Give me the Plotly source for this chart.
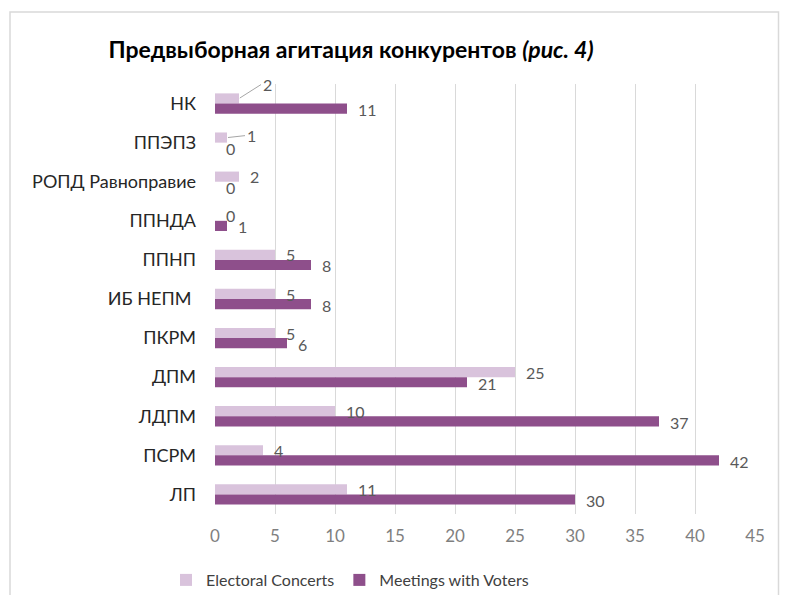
import plotly.graph_objects as go

categories = ["НК", "ППЭПЗ", "РОПД Равноправие", "ППНДА", "ППНП", "ИБ НЕПМ ",
              "ПКРМ", "ДПМ", "ЛДПМ", "ПСРМ", "ЛП"]
electoral_concerts = [2, 1, 2, 0, 5, 5, 5, 25, 10, 4, 11]
meetings_with_voters = [11, 0, 0, 1, 8, 8, 6, 21, 37, 42, 30]
x_ticks = [0, 5, 10, 15, 20, 25, 30, 35, 40, 45]
leader_labels = ["НК", "ППЭПЗ"]  # Electoral Concerts labels drawn with a leader line

FONT = "Lato"
C_EC = "#D9C3DC"
C_MV = "#8E4F8B"
LABEL_FONT = dict(family=FONT, size=16, color="#595959")

W, H = 772, 587          # page has an 8px body margin
L, R, T, B = 207, 25, 76, 81
PW, PH = W - L - R, H - T - B


def px(fx):
    return (fx - L) / PW


def py(fy):
    return (H - B - fy) / PH


fig = go.Figure()
fig.add_trace(go.Bar(
    y=categories, x=electoral_concerts, orientation="h", name="Electoral Concerts",
    marker=dict(color=C_EC, line=dict(width=0)),
))
fig.add_trace(go.Bar(
    y=categories, x=meetings_with_voters, orientation="h", name="Meetings with Voters",
    marker=dict(color=C_MV, line=dict(width=0)),
))

annotations = []
for c, v in zip(categories, electoral_concerts):
    if c in leader_labels:
        annotations.append(dict(
            x=v, y=c, yshift=5, text=str(v), showarrow=True, arrowhead=0,
            arrowwidth=1, arrowcolor="#A6A6A6", ax=22 if v > 1 else 18,
            ay=-14 if v > 1 else -2, xanchor="left", yanchor="middle",
            font=LABEL_FONT, standoff=1,
        ))
    else:
        annotations.append(dict(
            x=v, y=c, yshift=5, xshift=9, text=str(v), showarrow=False,
            xanchor="left", yanchor="middle", font=LABEL_FONT,
        ))
for c, v in zip(categories, meetings_with_voters):
    annotations.append(dict(
        x=v, y=c, yshift=-6, xshift=9, text=str(v), showarrow=False,
        xanchor="left", yanchor="middle", font=LABEL_FONT,
    ))

fig.update_layout(
    width=W, height=H,
    margin=dict(l=L, r=R, t=T, b=B, autoexpand=False),
    paper_bgcolor="white", plot_bgcolor="white",
    barmode="group", bargap=0.48, bargroupgap=0,
    title=dict(
        text="<b>Предвыборная агитация конкурентов <i>(рис. 4)</i></b>",
        x=343 / W, xanchor="center", y=1 - 42 / H, yanchor="middle",
        font=dict(family=FONT, size=23, color="#000000"),
    ),
    xaxis=dict(
        range=[0, 45], tickvals=x_ticks, showgrid=True, gridcolor="#D9D9D9",
        gridwidth=1, zeroline=False, showline=False,
        tickfont=dict(family=FONT, size=17, color="#7F7F7F"),
        ticklabelstandoff=10,
    ),
    yaxis=dict(
        autorange="reversed", showgrid=False, showline=False, zeroline=False,
        tickfont=dict(family=FONT, size=18, color="#262626"),
        ticklabelstandoff=18,
    ),
    legend=dict(
        orientation="h", x=px(158), xanchor="left",
        yref="container", y=1 - 572 / H, yanchor="middle",
        font=dict(family=FONT, size=16, color="#404040"),
        traceorder="normal",
    ),
    annotations=annotations,
    shapes=[dict(
        type="rect", xref="paper", yref="paper",
        x0=px(2), x1=px(W - 1.5), y0=py(H + 30), y1=py(4),
        line=dict(color="#D9D9D9", width=1.5), fillcolor="rgba(0,0,0,0)",
        layer="below",
    )],
)

fig.write_html("out.html")
